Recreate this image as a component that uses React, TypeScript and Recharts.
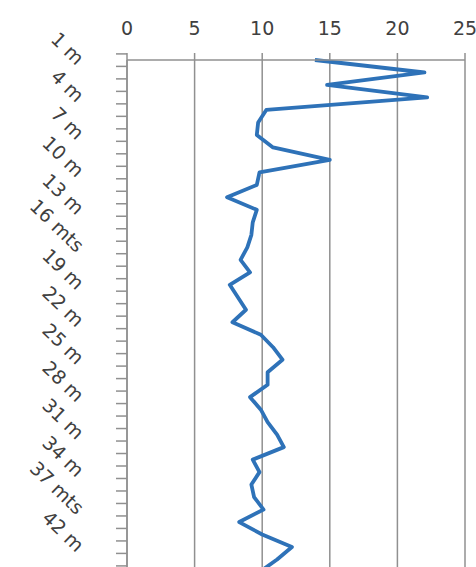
import React from "react";
import { LineChart, Line, XAxis, YAxis, CartesianGrid } from "recharts";

const depthLabels = [
  "1 m", "2 m", "3 m", "4 m", "5 m", "6 m", "7 m", "8 m", "9 m", "10 m",
  "11 m", "12 m", "13 m", "14 m", "15 m", "16 mts", "17 m", "18 m", "19 m", "20 m",
  "21 m", "22 m", "23 m", "24 m", "25 m", "26 m", "27 m", "28 m", "29 m", "30 m",
  "31 m", "32 m", "33 m", "34 m", "35 m", "36 m", "37 mts", "38 m", "40 m", "42 m",
  "43 m", "44 m",
];

const values = [
  13.9, 22.0, 14.8, 22.2, 10.3, 9.7, 9.6, 10.8, 15.0, 9.8,
  9.6, 7.4, 9.6, 9.3, 9.2, 8.9, 8.4, 9.1, 7.6, 8.2,
  8.8, 7.8, 9.9, 10.8, 11.5, 10.4, 10.4, 9.1, 9.9, 10.4,
  11.1, 11.6, 9.3, 9.8, 9.2, 9.4, 10.1, 8.3, 10.0, 12.2,
  11.1, 9.8,
];

const xTicks = [0, 5, 10, 15, 20, 25];

const data = depthLabels.map((d, i) => ({ depth: d, value: values[i] }));

const W = 476;
const H = 580;
const TOP = 60;
const BOTTOM = 8;
const PLOT_H = H - TOP - BOTTOM;
const BAND = PLOT_H / depthLabels.length;
const GRAY = "#909090";
const TEXT = "#404040";
const FONT = "DejaVu Sans, Verdana, sans-serif";

const XTick = (props: any) => {
  const { x, payload } = props;
  return (
    <text x={x} y={35} textAnchor="middle" fontSize={19} fontFamily={FONT} fill={TEXT}>
      {payload.value}
    </text>
  );
};

const DepthTick = (props: any) => {
  const { x, y, payload } = props;
  const idx = depthLabels.indexOf(payload.value);
  const ty = y - BAND / 2;
  const lx = x - 51;
  const ly = y + 6;
  return (
    <g>
      <line x1={x - 11} x2={x} y1={ty} y2={ty} stroke={GRAY} strokeWidth={1.5} />
      {idx === depthLabels.length - 1 && (
        <line x1={x - 11} x2={x} y1={y + BAND / 2} y2={y + BAND / 2} stroke={GRAY} strokeWidth={1.5} />
      )}
      {idx % 3 === 0 && (
        <text
          x={lx}
          y={ly}
          textAnchor="end"
          fontSize={19}
          fontFamily={FONT}
          fill={TEXT}
          transform={`rotate(44, ${lx}, ${ly})`}
        >
          {payload.value}
        </text>
      )}
    </g>
  );
};

export default function App() {
  return (
    <div style={{ position: "absolute", left: 0, top: 0, width: W, height: 567, overflow: "hidden", background: "#fff" }}>
      <LineChart
        width={W}
        height={H}
        data={data}
        layout="vertical"
        margin={{ top: 0, right: 11, bottom: BOTTOM, left: 0 }}
      >
        <CartesianGrid horizontal={false} vertical={true} stroke={GRAY} strokeWidth={1.5} />
        <XAxis
          type="number"
          orientation="top"
          domain={[0, 25]}
          ticks={xTicks}
          height={TOP}
          tick={<XTick />}
          tickSize={7}
          tickLine={{ stroke: GRAY, strokeWidth: 1.5 }}
          axisLine={{ stroke: GRAY, strokeWidth: 1.5 }}
          interval={0}
        />
        <YAxis
          type="category"
          dataKey="depth"
          width={127}
          interval={0}
          tickSize={0}
          tickMargin={0}
          tickLine={false}
          axisLine={{ stroke: GRAY, strokeWidth: 1.5 }}
          tick={<DepthTick />}
        />
        <Line
          type="linear"
          dataKey="value"
          stroke="#2e72b8"
          strokeWidth={3.8}
          dot={false}
          isAnimationActive={false}
          strokeLinejoin="round"
        />
      </LineChart>
    </div>
  );
}
